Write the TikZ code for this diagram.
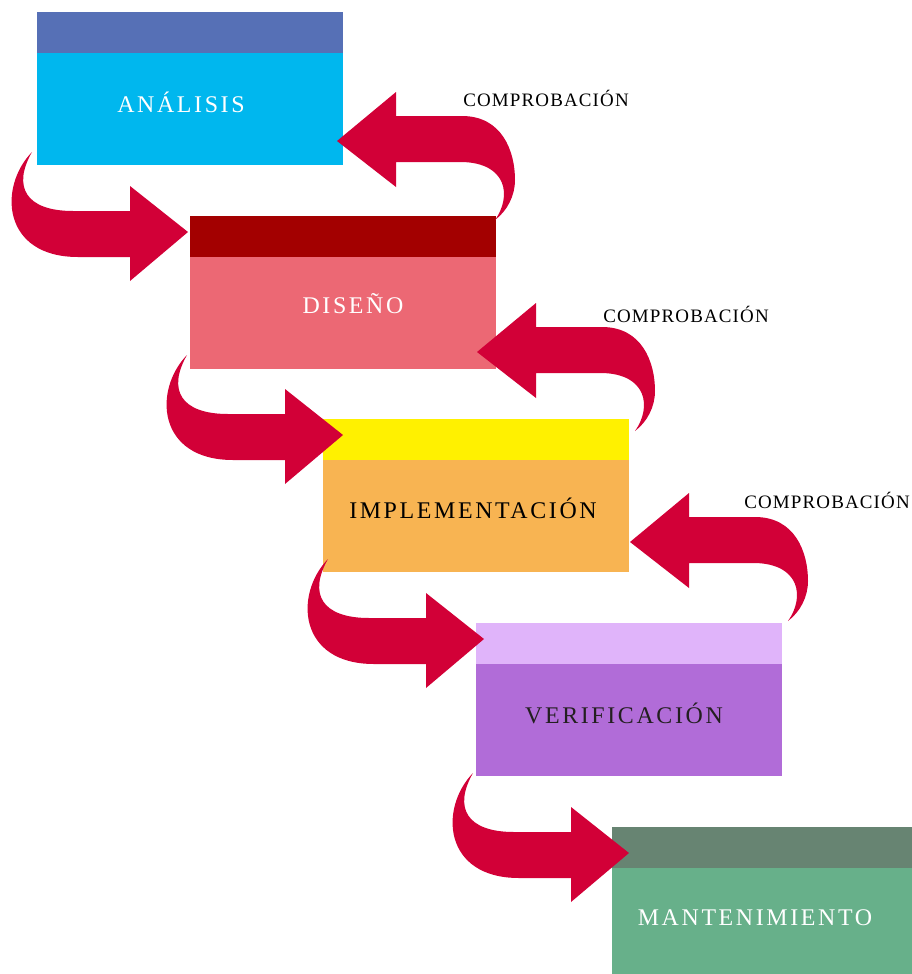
\documentclass[tikz,border=0pt]{standalone}
\usepackage{fontspec}
\setmainfont{Liberation Serif}
\newfontfamily\rotulo[LetterSpace=11]{Liberation Serif}
\newfontfamily\rotulocomp[LetterSpace=6]{Liberation Serif}

\definecolor{rojoflecha}{HTML}{D20037}
\definecolor{analisiscab}{HTML}{5670B6}
\definecolor{analisiscuerpo}{HTML}{00B7EE}
\definecolor{disenocab}{HTML}{A30000}
\definecolor{disenocuerpo}{HTML}{EC6874}
\definecolor{implcab}{HTML}{FFF100}
\definecolor{implcuerpo}{HTML}{F8B452}
\definecolor{verifcab}{HTML}{E0B4FA}
\definecolor{verifcuerpo}{HTML}{B16CD8}
\definecolor{mantcab}{HTML}{678472}
\definecolor{mantcuerpo}{HTML}{67B08A}
\definecolor{textooscuro}{HTML}{231F20}

\tikzset{
  flecha/.style={fill=rojoflecha},
  nombrefase/.style={anchor=base, inner sep=0pt, font=\rotulo\fontsize{17}{19}\selectfont},
  comprobacion/.style={anchor=base west, inner sep=0pt, font=\rotulocomp\fontsize{13.5}{15}\selectfont},
}

% caja de una fase: esquina superior izquierda, cabecera, cuerpo
\newcommand{\fase}[3]{%
  \begin{scope}[shift={(#1)}]
    \fill[#2] (0,0) rectangle (306,41);
    \fill[#3] (0,41) rectangle (306,153);
  \end{scope}}

% flecha curva hacia la fase siguiente (punta en #1)
\newcommand{\avance}[1]{%
  \fill[flecha,shift={(#1)}] (0,0) -- (-58,-46) -- (-58,-21) -- (-115,-21)
    .. controls (-162,-21) and (-176,-45) .. (-156,-80)
    .. controls (-190,-45) and (-186,25) .. (-110,25)
    -- (-58,25) -- (-58,49) -- cycle;}

% flecha de vuelta a la fase anterior (punta en #1)
\newcommand{\retorno}[1]{%
  \fill[flecha,shift={(#1)}] (0,0) -- (59,-49) -- (59,-25) -- (125,-25)
    .. controls (165,-25) and (178,10) .. (178,39)
    .. controls (178,55) and (170,70) .. (158,79)
    .. controls (175,55) and (170,22) .. (125,21)
    -- (59,21) -- (59,46) -- cycle;}

\begin{document}
\begin{tikzpicture}[x=0.025cm,y=-0.025cm]
  \useasboundingbox (0,0) rectangle (912,974);
  \clip (0,0) rectangle (912,974);

  % fases
  \fase{37,12}{analisiscab}{analisiscuerpo}
  \fase{190,216}{disenocab}{disenocuerpo}
  \fase{323,419}{implcab}{implcuerpo}
  \fase{476,623}{verifcab}{verifcuerpo}
  \fase{612,827}{mantcab}{mantcuerpo}

  \node[nombrefase,text=white] (analisis) at (181,112) {ANÁLISIS};
  \node[nombrefase,text=white] (diseno) at (353,313) {DISEÑO};
  \node[nombrefase,text=black] (implementacion) at (473,518) {IMPLEMENTACIÓN};
  \node[nombrefase,text=textooscuro] (verificacion) at (624,723) {VERIFICACIÓN};
  \node[nombrefase,text=white] (mantenimiento) at (755,925) {MANTENIMIENTO};

  % puntas de las flechas
  \coordinate (av1) at (188,232);
  \coordinate (av2) at (343,435);
  \coordinate (av3) at (484,639);
  \coordinate (av4) at (629,853);
  \coordinate (re1) at (337,141);
  \coordinate (re2) at (477,352);
  \coordinate (re3) at (630,542);

  \avance{av1}
  \avance{av2}
  \avance{av3}
  \avance{av4}
  \retorno{re1}
  \retorno{re2}
  \retorno{re3}

  \node[comprobacion] (comp1) at (463,106) {COMPROBACIÓN};
  \node[comprobacion] (comp2) at (603,322) {COMPROBACIÓN};
  \node[comprobacion] (comp3) at (744,508) {COMPROBACIÓN};
\end{tikzpicture}
\end{document}
